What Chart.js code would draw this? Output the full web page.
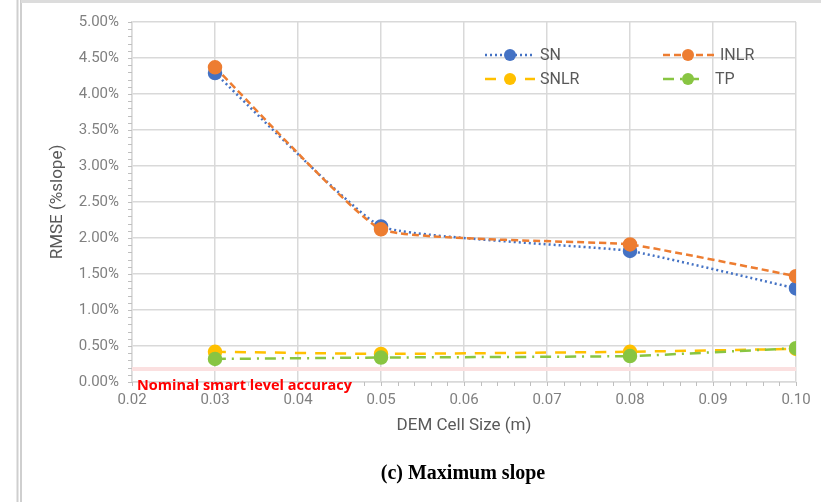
<!DOCTYPE html>
<html>
<head>
<meta charset="utf-8">
<script src="https://cdn.jsdelivr.net/npm/chart.js@4/dist/chart.umd.min.js"></script>
<style>
  html, body { margin: 0; padding: 0; background: #fff; }
  #wrap { position: relative; width: 821px; height: 502px; }
</style>
</head>
<body>
<div id="wrap"><canvas id="myChart" width="821" height="502"></canvas></div>
<script>
// cell sizes (m)
const cellSizes = [0.03, 0.05, 0.08, 0.10];
// RMSE values in % slope
const snValues   = [4.29, 2.16, 1.82, 1.30];
const inlrValues = [4.37, 2.12, 1.91, 1.47];
const snlrValues = [0.42, 0.39, 0.42, 0.46];
const tpValues   = [0.32, 0.34, 0.36, 0.47];
// nominal smart level accuracy line
const nominalX = [0.02, 0.10];
const nominalY = [0.18, 0.18];

const toPoints = (xs, ys) => xs.map((x, i) => ({x: x, y: ys[i]}));

const gridColor = '#d9d9d9';
const tickColor = '#808080';

// frame, minor ticks, legend, texts
const decor = {
    id: 'decor',
    beforeDraw(chart) {
        const c = chart.ctx;
        c.save();
        c.strokeStyle = '#cfcfcf';
        c.lineWidth = 2;
        c.beginPath();
        c.moveTo(17.5, 0); c.lineTo(17.5, 502);
        c.moveTo(21, 0); c.lineTo(21, 502);
        c.stroke();
        c.lineWidth = 3;
        c.strokeStyle = '#dcdcdc';
        c.beginPath();
        c.moveTo(21, 1.5); c.lineTo(821, 1.5);
        c.stroke();
        c.restore();
    },
    afterDraw(chart) {
        const c = chart.ctx;
        const xs = chart.scales.x, ys = chart.scales.y;
        const area = chart.chartArea;
        c.save();
        // minor ticks
        c.strokeStyle = '#bfbfbf';
        c.lineWidth = 1;
        c.beginPath();
        for (let i = 0; i <= 50; i++) {
            const py = Math.round(ys.getPixelForValue(i / 10)) + 0.5;
            c.moveTo(area.left - 4, py); c.lineTo(area.left, py);
        }
        for (let i = 0; i <= 40; i++) {
            const px = Math.round(xs.getPixelForValue(0.02 + i * 0.002)) + 0.5;
            c.moveTo(px, area.bottom); c.lineTo(px, area.bottom + 4);
        }
        c.stroke();

        // legend
        const items = [
            {ds: 0, x: 485, y: 55, w: 48, tx: 540},
            {ds: 1, x: 663, y: 55, w: 52, tx: 720},
            {ds: 2, x: 485, y: 79, w: 50, tx: 540},
            {ds: 3, x: 663, y: 79, w: 42, tx: 715}
        ];
        items.forEach(it => {
            const d = chart.data.datasets[it.ds];
            c.strokeStyle = d.borderColor;
            c.lineWidth = d.borderWidth;
            c.setLineDash(d.borderDash);
            c.beginPath();
            c.moveTo(it.x, it.y); c.lineTo(it.x + it.w, it.y);
            c.stroke();
            c.setLineDash([]);
            c.fillStyle = d.pointBackgroundColor;
            c.beginPath();
            c.arc(it.x + 25, it.y, 6, 0, Math.PI * 2);
            c.fill();
            c.fillStyle = '#595959';
            c.font = '16px Roboto';
            c.textAlign = 'left';
            c.textBaseline = 'middle';
            c.fillText(d.label, it.tx, it.y + 1);
        });

        // nominal label
        c.fillStyle = '#ff0000';
        c.font = 'bold 14.5px "Open Sans"';
        c.textAlign = 'left';
        c.textBaseline = 'middle';
        c.fillText('Nominal smart level accuracy', area.left + 5, ys.getPixelForValue(0) + 4);

        // caption
        c.fillStyle = '#000';
        c.font = 'bold 20px "Liberation Serif"';
        c.textAlign = 'center';
        c.fillText('(c) Maximum slope', 463, 474);
        c.restore();
    }
};

var ctx = document.getElementById('myChart');
var myChart = new Chart(ctx, {
    type: 'line',
    data: {
        datasets: [{
            label: 'SN',
            data: toPoints(cellSizes, snValues),
            borderColor: '#4472C4',
            pointBackgroundColor: '#4472C4',
            borderWidth: 2.5,
            borderDash: [2, 3],
            order: 4
        }, {
            label: 'INLR',
            data: toPoints(cellSizes, inlrValues),
            borderColor: '#ED7D31',
            pointBackgroundColor: '#ED7D31',
            borderWidth: 2.5,
            borderDash: [7, 4],
            order: 2
        }, {
            label: 'SNLR',
            data: toPoints(cellSizes, snlrValues),
            borderColor: '#FFC000',
            pointBackgroundColor: '#FFC000',
            borderWidth: 2.5,
            borderDash: [11, 9],
            order: 3
        }, {
            label: 'TP',
            data: toPoints(cellSizes, tpValues),
            borderColor: '#88C542',
            pointBackgroundColor: '#88C542',
            borderWidth: 2.5,
            borderDash: [11, 6, 2, 6],
            order: 1
        }, {
            label: 'nominal',
            data: toPoints(nominalX, nominalY),
            borderColor: '#fbe0e0',
            borderWidth: 4,
            pointRadius: 0,
            tension: 0,
            order: 5
        }]
    },
    options: {
        responsive: false,
        animation: false,
        devicePixelRatio: 1,
        elements: {
            point: {radius: 6, hoverRadius: 6, borderWidth: 0},
            line: {tension: 0.12}
        },
        layout: {
            padding: {left: 44, top: 22, right: 25, bottom: 62}
        },
        plugins: {
            legend: {display: false},
            tooltip: {enabled: false}
        },
        scales: {
            x: {
                type: 'linear',
                min: 0.02,
                max: 0.10,
                afterFit(scale) { scale.height = 58; },
                ticks: {
                    stepSize: 0.01,
                    padding: 9,
                    color: tickColor,
                    font: {family: 'Roboto', size: 15},
                    callback: v => v.toFixed(2)
                },
                grid: {color: gridColor, lineWidth: 1.5, drawTicks: false},
                border: {color: gridColor, width: 1.5},
                title: {
                    display: true,
                    text: 'DEM Cell Size (m)',
                    color: '#595959',
                    font: {family: 'Roboto', size: 17},
                    padding: {top: 4, bottom: 4}
                }
            },
            y: {
                min: 0,
                max: 5,
                afterFit(scale) { scale.width = 88; },
                ticks: {
                    stepSize: 0.5,
                    padding: 13,
                    color: tickColor,
                    font: {family: 'Roboto', size: 15},
                    callback: v => v.toFixed(2) + '%'
                },
                grid: {color: gridColor, lineWidth: 1.5, drawTicks: false},
                border: {color: gridColor, width: 1.5},
                title: {
                    display: true,
                    text: 'RMSE (%slope)',
                    color: '#595959',
                    font: {family: 'Roboto', size: 17},
                    padding: {top: 4, bottom: 4}
                }
            }
        }
    },
    plugins: [decor]
});
</script>
</body>
</html>
